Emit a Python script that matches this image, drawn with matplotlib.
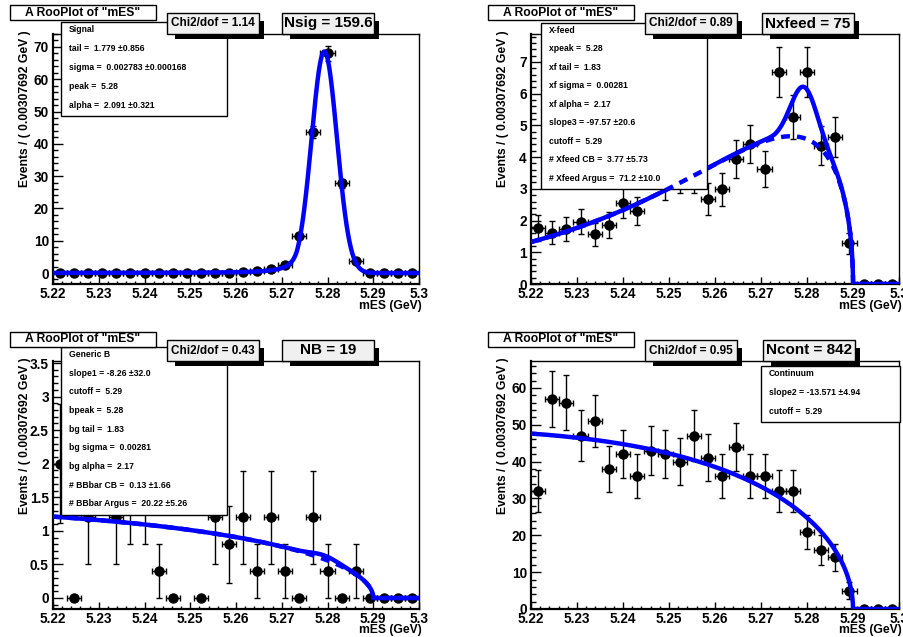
import matplotlib as mpl
mpl.use('agg')
mpl.rcParams['axes.unicode_minus'] = False

import matplotlib.pyplot as plt
import numpy as np
from matplotlib.patches import Rectangle
from matplotlib.ticker import MultipleLocator, FuncFormatter

plt.rcParams['font.family'] = ['Liberation Sans', 'DejaVu Sans']
plt.rcParams['font.weight'] = 'bold'

W, H = 904, 637
lo, hi, nbins = 5.22, 5.30, 26
bw = (hi - lo) / nbins
mes = lo + bw * (np.arange(nbins) + 0.5)

# signal MC
sig_y = [0.1, 0.1, 0.1, 0.1, 0.1, 0.1, 0.1, 0.1, 0.1, 0.1, 0.1, 0.1, 0.1,
         0.4, 0.7, 1.2, 2.5, 11.5, 43.6, 68.0, 27.8, 3.8, 0, 0, 0, 0]
sig_err = [0.05] * 13 + [0.15, 0.2, 0.3, 0.6, 1.0, 1.8, 2.3, 1.4, 0.5, 0, 0, 0, 0]

# cross-feed
xf_y = [1.76, 1.62, 1.72, 1.97, 1.57, 1.86, 2.55, 2.30, 3.6, 3.2, 3.4, 3.4, 2.68,
        2.99, 3.94, 4.40, 3.63, 6.68, 5.26, 6.68, 4.36, 4.62, 1.28, 0, 0, 0]
xf_err = [0.40, 0.37, 0.38, 0.40, 0.36, 0.40, 0.47, 0.45, 0.55, 0.55, 0.52, 0.52, 0.50,
          0.52, 0.60, 0.60, 0.57, 0.78, 0.70, 0.78, 0.62, 0.63, 0.32, 0, 0, 0]

# generic B
gb_y = [2.0, 0, 1.2, 2.8, 1.2, 1.6, 1.6, 0.4, 0, 2.4, 0, 1.2, 0.8,
        1.2, 0.4, 1.2, 0.4, 0, 1.2, 0.4, 0, 0.4, 0, 0, 0, 0]
gb_err = [0.89, 0, 0.69, 1.06, 0.69, 0.8, 0.8, 0.4, 0, 0.98, 0, 0.69, 0.57,
          0.69, 0.4, 0.69, 0.4, 0, 0.69, 0.4, 0, 0.4, 0, 0, 0, 0]

# continuum
cont_y = [32, 57, 56, 47, 51, 38, 42, 36, 43, 42, 40, 47, 41,
          36, 44, 36, 36, 32, 32, 21, 16, 14, 5, 0, 0, 0]
cont_err = [5.7, 7.6, 7.5, 6.9, 7.1, 6.2, 6.5, 6.0, 6.6, 6.5, 6.3, 6.9, 6.4,
            6.0, 6.6, 6.0, 6.0, 5.7, 5.7, 4.6, 4.0, 3.7, 2.2, 0, 0, 0]

# fit results
sig_par = dict(m0=5.2793, sigma=0.002783, alpha=2.091, n=1.779)
n_sig = 159.6
xf_cb = dict(m0=5.2793, sigma=0.00281, alpha=2.17, n=1.83)
n_xf_cb, n_xf_arg, slope3 = 3.77, 71.2, -97.57
n_gb_cb, n_gb_arg, slope1 = 0.13, 20.22, -8.26
n_cont, slope2 = 842, -13.571
cutoff = 5.29

sig_lines = ["Signal", "tail =  1.779 \u00b10.856", "sigma =  0.002783 \u00b10.000168",
             "peak =  5.28", "alpha =  2.091 \u00b10.321"]
xf_lines = ["X-feed", "xpeak =  5.28", "xf tail =  1.83", "xf sigma =  0.00281",
            "xf alpha =  2.17", "slope3 = -97.57 \u00b120.6", "cutoff =  5.29",
            "# Xfeed CB =  3.77 \u00b15.73", "# Xfeed Argus =  71.2 \u00b110.0"]
gb_lines = ["Generic B", "slope1 = -8.26 \u00b132.0", "cutoff =  5.29", "bpeak =  5.28",
            "bg tail =  1.83", "bg sigma =  0.00281", "bg alpha =  2.17",
            "# BBbar CB =  0.13 \u00b11.66", "# BBbar Argus =  20.22 \u00b15.26"]
cont_lines = ["Continuum", "slope2 = -13.571 \u00b14.94", "cutoff =  5.29"]


def cbshape(m, m0, sigma, alpha, n):
    t = (m - m0) / sigma
    a = abs(alpha)
    out = np.exp(-0.5 * t**2)
    A = (n / a)**n * np.exp(-0.5 * a * a)
    B = n / a - a
    tail = t < -a
    out[tail] = A / (B - t[tail])**n
    return out


def argus(m, m0, c):
    z = 1 - (m / m0)**2
    out = np.zeros_like(m)
    ok = z > 0
    out[ok] = m[ok] * np.sqrt(z[ok]) * np.exp(c * z[ok])
    return out


mf = np.linspace(lo, hi, 8001)


def scaled(shape, nev):
    return shape / np.trapezoid(shape, mf) * nev * bw


sig_curve = scaled(cbshape(mf, **sig_par), n_sig)
xf_arg = scaled(argus(mf, cutoff, slope3), n_xf_arg)
xf_tot = xf_arg + scaled(cbshape(mf, **xf_cb), n_xf_cb)
gb_arg = scaled(argus(mf, cutoff, slope1), n_gb_arg)
gb_tot = gb_arg + scaled(cbshape(mf, **xf_cb), n_gb_cb)
cont_curve = scaled(argus(mf, cutoff, slope2), n_cont)

fig = plt.figure(figsize=(W / 100, H / 100), dpi=100)


def fx(px):
    return px / W


def fy(py):
    return 1 - py / H


def box(ax, x0, y0, x1, y1, fc='white', shadow=False, z=5):
    if shadow:
        ax.add_patch(Rectangle((fx(x0 + 8), fy(y1 + 5)), (x1 - x0 - 3) / W, (y1 - y0 - 3) / H,
                               transform=fig.transFigure, fc='black', ec='none',
                               clip_on=False, zorder=z - 0.05))
    ax.add_patch(Rectangle((fx(x0), fy(y1)), (x1 - x0) / W, (y1 - y0) / H,
                           transform=fig.transFigure, fc=fc, ec='black', lw=1,
                           clip_on=False, zorder=z))


def txt(ax, x, y, s, size, ha='center', z=6, **kw):
    ax.text(fx(x), fy(y), s, transform=fig.transFigure, ha=ha, va='center',
            fontsize=size, fontweight='bold', clip_on=False, zorder=z, **kw)


def tick_fmt(v, pos):
    s = '%.3f' % v
    return s.rstrip('0').rstrip('.')


def panel(l, t, r, b, ylim, ymaj, ymin, y, yerr, curves, chi2, nlabel, ntext, leg, lines, leg_z=4):
    ax = fig.add_axes([fx(l), fy(b), (r - l) / W, (b - t) / H])
    ax.set_xlim(lo, hi)
    ax.set_ylim(*ylim)
    ax.errorbar(mes, y, yerr=yerr, xerr=bw / 2, fmt='o', color='black', ms=6.5,
                elinewidth=1, capsize=2, capthick=1, zorder=2)
    for yc, ls, z in curves:
        ax.plot(mf, yc, color='#0000ff', lw=3.2, ls=ls, zorder=z, solid_capstyle='butt')
    ax.xaxis.set_major_locator(MultipleLocator(0.01))
    ax.xaxis.set_minor_locator(MultipleLocator(0.002))
    ax.yaxis.set_major_locator(MultipleLocator(ymaj))
    ax.yaxis.set_minor_locator(MultipleLocator(ymin))
    ax.xaxis.set_major_formatter(FuncFormatter(tick_fmt))
    ax.yaxis.set_major_formatter(FuncFormatter(tick_fmt))
    ax.tick_params(which='both', direction='in', top=False, right=False, width=1,
                   labelsize=9.8)
    ax.tick_params(axis='y', which='major', length=7.5, pad=3)
    ax.tick_params(axis='y', which='minor', length=3.5)
    ax.tick_params(axis='x', which='major', length=5, pad=2)
    ax.tick_params(axis='x', which='minor', length=2.5)
    for side in ('left', 'bottom'):
        ax.spines[side].set_linewidth(1.6)
    for side in ('top', 'right'):
        ax.spines[side].set_linewidth(1.0)

    txt(ax, r + 3, b + 21.5, 'mES (GeV)', 8.7, ha='right')
    txt(ax, l - 28, t - 4, 'Events / ( 0.00307692 GeV )', 8.7, rotation=90)
    ax.texts[-1].set_va('top')

    # title, chi2 and yield boxes
    tx = l - 43
    box(ax, tx, t - 29, tx + 146, t - 14, z=6)
    txt(ax, tx + 73, t - 21.5, 'A RooPlot of "mES"', 8.7, z=6.1)
    box(ax, l + 114, t - 21, l + 206, t, fc='#f0f0f0', shadow=True, z=6)
    txt(ax, l + 160, t - 10.5, 'Chi2/dof = %s' % chi2, 8.5, z=6.1)
    box(ax, l + nlabel, t - 21, l + nlabel + 92, t, fc='#f0f0f0', shadow=True, z=6)
    txt(ax, l + nlabel + 46, t - 10.5, ntext, 11, z=6.1)

    # parameter box
    x0, y0, x1, y1 = leg
    box(ax, x0, y0, x1, y1, z=leg_z)
    for yy, s in zip(np.linspace(y0 + 7.5, y1 - 11, len(lines)), lines):
        txt(ax, x0 + 8, yy, s, 6.2, ha='left', z=leg_z + 0.1)
    return ax


dash = (0, (2, 1.6))

panel(53, 34, 419, 284, (-3.4, 74.0), 10, 2, sig_y, sig_err,
      [(sig_curve, '-', 3)], '1.14', 229, 'Nsig = 159.6',
      (61, 22, 227, 116), sig_lines)

panel(531, 34, 899, 284, (0, 7.88), 1, 0.2, xf_y, xf_err,
      [(xf_tot, '-', 3), (xf_arg, dash, 4.5)], '0.89', 231, 'Nxfeed = 75',
      (541, 23, 707, 189), xf_lines)

panel(53, 361, 419, 609, (-0.164, 3.53), 0.5, 0.1, gb_y, gb_err,
      [(gb_tot, '-', 3), (gb_arg, dash, 4.5)], '0.43', 229, 'NB = 19',
      (61, 347, 227, 515), gb_lines)

panel(531, 361, 899, 609, (0, 67.3), 10, 2, cont_y, cont_err,
      [(cont_curve, '-', 3)], '0.95', 232, 'Ncont = 842',
      (761, 366, 900, 422), cont_lines)

plt.savefig('out.png', dpi=100)
